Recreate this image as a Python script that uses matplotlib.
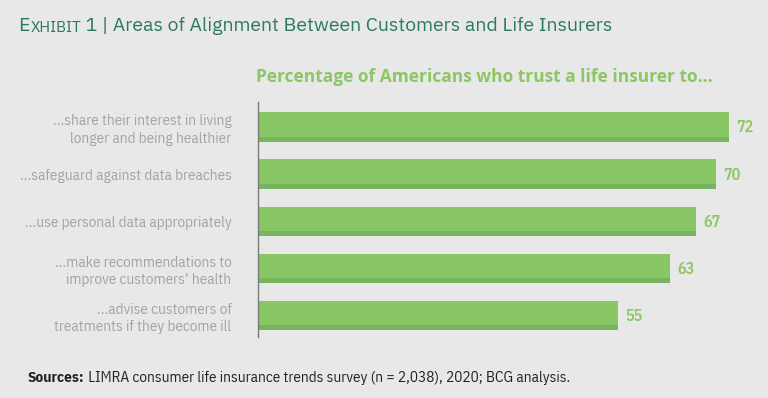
import matplotlib.pyplot as plt
from matplotlib import font_manager
import numpy as np

labels = ['...share their interest in living\nlonger and being healthier',
          '...safeguard against data breaches',
          '...use personal data appropriately',
          '...make recommendations to\nimprove customers\u2019 health',
          '...advise customers of\ntreatments if they become ill']
values = [72, 70, 67, 63, 55]

fonts = font_manager.fontManager.ttflist
installed = {f.name for f in fonts}
bold_ok = {f.name for f in fonts if isinstance(f.weight, int) and f.weight >= 600
           or f.weight in ('bold', 'semibold', 'demibold')}


def pick(*cands, bold=False):
    for c in cands:
        if c in installed and (not bold or c in bold_ok):
            return c
    return 'DejaVu Sans'


cond = pick('IBM Plex Sans Condensed', 'Roboto Condensed', 'Liberation Sans Narrow', 'Roboto')
cond_b = pick('IBM Plex Sans Condensed', 'Roboto Condensed', 'Liberation Sans Narrow', 'Roboto',
              bold=True)
plain = pick('IBM Plex Sans', 'Open Sans', 'Roboto')
plain_b = pick('IBM Plex Sans SemiBold', 'IBM Plex Sans', 'Open Sans', 'Roboto', bold=True)

bg = '#E8E8E8'
bar_green = '#89C665'
shade_green = '#78B35E'
title_green = '#2B7A5B'
label_grey = '#A3A3A3'

fig = plt.figure(figsize=(7.68, 3.98), dpi=100, facecolor=bg)
ax = fig.add_axes([258 / 768, 1 - 337 / 398, 523 / 768, 235 / 398])
ax.set_facecolor(bg)

ypos = np.arange(len(values))
h = 0.625
ax.barh(ypos, values, height=h, color=bar_green, edgecolor='none')
# darker strip along the bottom of each bar
ax.barh(ypos + h / 2 - 0.055, values, height=0.11, color=shade_green, edgecolor='none')

for y, v in zip(ypos, values):
    ax.text(v + 1.2, y + 0.02, str(v), va='center', ha='left', fontsize=11.5,
            fontweight='semibold', color='#8CC665', family=cond_b)

ax.set_xlim(0, 80)
ax.set_ylim(4.455, -0.53)
ax.set_yticks(ypos)
ax.set_yticklabels(labels, fontsize=11, color=label_grey, linespacing=1.3, family=cond)
ax.tick_params(axis='y', length=0, pad=19)
ax.set_xticks([])
for s in ['top', 'right', 'bottom']:
    ax.spines[s].set_visible(False)
ax.spines['left'].set_color('#7A7A7A')
ax.spines['left'].set_linewidth(1.0)

# title with small caps "EXHIBIT"
t1 = fig.text(18 / 768, 1 - 31 / 398, 'E', fontsize=14, color=title_green, va='baseline',
              family=plain)
t2 = ax.annotate('XHIBIT', xy=(1, 0), xycoords=t1, xytext=(0.5, 0), textcoords='offset points',
                 fontsize=11, color=title_green, va='bottom', family=plain)
ax.annotate(' 1 | Areas of Alignment Between Customers and Life Insurers', xy=(1, 0),
            xycoords=t2, fontsize=14, color=title_green, va='bottom', family=plain)

fig.text(256 / 768, 1 - 77 / 398, 'Percentage of Americans who trust a life insurer to...',
         fontsize=12.5, fontweight='bold', color='#8CC665', va='center', family=plain_b)

s1 = fig.text(28 / 768, 1 - 378 / 398, 'Sources:', fontsize=11, fontweight='bold',
              color='#222222', va='center', family=cond_b)
ax.annotate(' LIMRA consumer life insurance trends survey (n = 2,038), 2020; BCG analysis.',
            xy=(1, 0.5), xycoords=s1, va='center', fontsize=11, color='#222222', family=cond)

fig.savefig('out.png', dpi=100, facecolor=bg)
